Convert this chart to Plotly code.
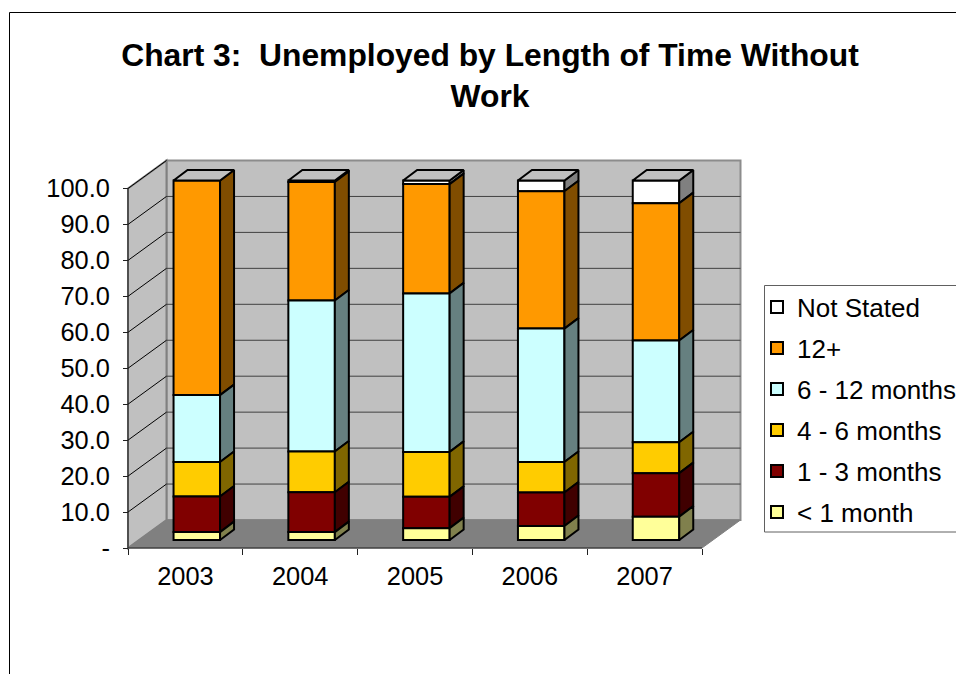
import plotly.graph_objects as go

# Percent of unemployed by time without work, one list per duration band
years = [2003, 2004, 2005, 2006, 2007]
under_1_month = [2.2, 2.2, 3.3, 3.9, 6.5]
months_1_3 = [9.9, 11.1, 8.7, 9.3, 12.1]
months_4_6 = [9.6, 11.3, 12.5, 8.5, 8.6]
months_6_12 = [18.6, 42.0, 44.1, 37.1, 28.3]
months_12_plus = [59.7, 33.0, 30.4, 38.2, 38.2]
not_stated = [0.0, 0.4, 1.0, 3.0, 6.3]

# Bottom-to-top stacking order
bands = [
    ("< 1 month", under_1_month, "#FFFF99", "#80804D"),
    ("1 - 3 months", months_1_3, "#800000", "#400000"),
    ("4 - 6 months", months_4_6, "#FFCC00", "#806600"),
    ("6 - 12 months", months_6_12, "#CCFFFF", "#668080"),
    ("12+", months_12_plus, "#FF9900", "#804D00"),
    ("Not Stated", not_stated, "#FFFFFF", "#808080"),
]
y_ticks = [0, 10, 20, 30, 40, 50, 60, 70, 80, 90, 100]
y_labels = ["-", "10.0", "20.0", "30.0", "40.0", "50.0", "60.0", "70.0", "80.0", "90.0", "100.0"]

FONT = "Liberation Sans, Arial, sans-serif"
PX_PER_YEAR = 114.8
PX_PER_UNIT = 3.595

# Plot box in pixels; the axes sit inside it so the wall edges are not clipped
BOX_L, BOX_R, BOX_T, BOX_B = 100, 760, 150, 560
ORIGIN_X, ORIGIN_Y = 128, 548

X0 = years[0] - 0.5
X1 = years[-1] + 0.5
WALL_DX = 38.5 / PX_PER_YEAR
WALL_DY = 28 / PX_PER_UNIT
BAR_WIDTH = 46.5 / PX_PER_YEAR
BAR_SHIFT = 11.4 / PX_PER_YEAR
BAR_LIFT = 8 / PX_PER_UNIT
BAR_DX = 14 / PX_PER_YEAR
BAR_DY = 10.5 / PX_PER_UNIT

fig = go.Figure()

# Front faces and right-hand side faces of each stacked column
bases = [0.0] * len(years)
stack = []
for name, values, colour, side_colour in bands:
    stack.append((name, values, colour, side_colour, list(bases)))
    bases = [b + v for b, v in zip(bases, values)]

for name, values, colour, side_colour, start in reversed(stack):
    fig.add_trace(go.Bar(
        x=[y + BAR_SHIFT for y in years], y=values,
        base=[s + BAR_LIFT for s in start], width=BAR_WIDTH,
        name=name, legendgroup=name,
        marker=dict(color=colour, line=dict(color="black", width=2)),
        hoverinfo="skip",
    ))
    side_x, side_y = [], []
    for yr, v, s in zip(years, values, start):
        right = yr + BAR_SHIFT + BAR_WIDTH / 2
        low = s + BAR_LIFT
        side_x += [right, right + BAR_DX, right + BAR_DX, right, right, None]
        side_y += [low, low + BAR_DY, low + v + BAR_DY, low + v, low, None]
    fig.add_trace(go.Scatter(
        x=side_x, y=side_y, mode="lines", fill="toself", fillcolor=side_colour,
        line=dict(color="black", width=2), showlegend=False, legendgroup=name,
        hoverinfo="skip",
    ))

# Caps on top of the columns
cap_x, cap_y = [], []
for yr, total in zip(years, bases):
    left = yr + BAR_SHIFT - BAR_WIDTH / 2
    right = left + BAR_WIDTH
    top = total + BAR_LIFT
    cap_x += [left, right, right + BAR_DX, left + BAR_DX, left, None]
    cap_y += [top, top, top + BAR_DY, top + BAR_DY, top, None]
fig.add_trace(go.Scatter(
    x=cap_x, y=cap_y, mode="lines", fill="toself", fillcolor="#C0C0C0",
    line=dict(color="black", width=2), showlegend=False, hoverinfo="skip",
))


def poly(points):
    return "M" + "L".join(f"{x},{y}" for x, y in points) + "Z"


shapes = [
    # Back wall, side wall and floor
    dict(type="rect", xref="x", yref="y", layer="below",
         x0=X0 + WALL_DX, x1=X1 + WALL_DX, y0=WALL_DY, y1=100 + WALL_DY,
         fillcolor="#C0C0C0", line=dict(color="#8C8C8C", width=2)),
    dict(type="path", xref="x", yref="y", layer="below",
         path=poly([(X0, 0), (X0 + WALL_DX, WALL_DY), (X0 + WALL_DX, 100 + WALL_DY), (X0, 100)]),
         fillcolor="#C0C0C0", line=dict(color="#808080", width=2)),
    dict(type="path", xref="x", yref="y", layer="below",
         path=poly([(X0, 0), (X1, 0), (X1 + WALL_DX, WALL_DY), (X0 + WALL_DX, WALL_DY)]),
         fillcolor="#808080", line=dict(color="#808080", width=1)),
]
for v in y_ticks[1:]:
    if v < 100:
        shapes.append(dict(type="line", xref="x", yref="y", layer="below",
                           x0=X0 + WALL_DX, x1=X1 + WALL_DX, y0=v + WALL_DY, y1=v + WALL_DY,
                           line=dict(color="#404040", width=1)))
    shapes.append(dict(type="line", xref="x", yref="y", layer="below",
                       x0=X0, x1=X0 + WALL_DX, y0=v, y1=v + WALL_DY,
                       line=dict(color="#000000", width=1)))

# Value and category axis lines
shapes.append(dict(type="line", xref="x", yref="y", x0=X0, x1=X0, y0=0, y1=100,
                   layer="below", line=dict(color="#202020", width=1)))
shapes.append(dict(type="line", xref="x", yref="y", x0=X0, x1=X1, y0=0, y1=0,
                   layer="below", line=dict(color="#202020", width=1)))


def paper_x(px):
    return (px - BOX_L) / (BOX_R - BOX_L)


def paper_y(px):
    return (BOX_B - px) / (BOX_B - BOX_T)


# Outer chart frame, running off the page to the right and bottom
shapes.append(dict(type="line", xref="paper", yref="paper",
                   x0=paper_x(9.5), x1=paper_x(9.5), y0=paper_y(12.5), y1=paper_y(680),
                   line=dict(color="black", width=1)))
shapes.append(dict(type="line", xref="paper", yref="paper",
                   x0=paper_x(9.5), x1=paper_x(970), y0=paper_y(12.5), y1=paper_y(12.5),
                   line=dict(color="black", width=1)))
# Legend box
shapes.append(dict(type="rect", xref="paper", yref="paper",
                   x0=paper_x(764.5), x1=paper_x(975), y0=paper_y(285.5), y1=paper_y(532),
                   line=dict(color="#606060", width=1), fillcolor="white", layer="below"))

fig.update_layout(
    width=956, height=674,
    margin=dict(l=BOX_L, r=956 - BOX_R, t=BOX_T, b=674 - BOX_B, pad=0, autoexpand=False),
    paper_bgcolor="white", plot_bgcolor="rgba(0,0,0,0)",
    barmode="overlay", shapes=shapes,
    font=dict(family=FONT, color="black", size=25),
    title=dict(
        text="<b>Chart 3:  Unemployed by Length of Time Without<br>Work</b>",
        x=490 / 956, xanchor="center", y=1 - 66 / 674, yanchor="top",
        font=dict(family=FONT, size=31.8, color="black"),
    ),
    xaxis=dict(
        range=[X0 + (BOX_L - ORIGIN_X) / PX_PER_YEAR, X0 + (BOX_R - ORIGIN_X) / PX_PER_YEAR],
        anchor="free", position=(BOX_B - ORIGIN_Y) / (BOX_B - BOX_T),
        tickmode="array", tickvals=years, ticktext=[str(y) for y in years],
        ticks="", showgrid=False, showline=False, zeroline=False, ticklabelstandoff=11,
        tickfont=dict(size=25.4),
        minor=dict(tickmode="array", tickvals=[y - 0.5 for y in years] + [X1],
                   ticks="outside", ticklen=6, tickcolor="#202020", tickwidth=1, showgrid=False),
    ),
    yaxis=dict(
        range=[(ORIGIN_Y - BOX_B) / PX_PER_UNIT, (ORIGIN_Y - BOX_T) / PX_PER_UNIT],
        anchor="free", position=(ORIGIN_X - BOX_L) / (BOX_R - BOX_L),
        tickmode="array", tickvals=y_ticks, ticktext=y_labels,
        ticks="outside", ticklen=5, tickcolor="#202020", tickwidth=1,
        showgrid=False, showline=False, zeroline=False, ticklabelstandoff=8,
        tickfont=dict(size=25.4),
    ),
    legend=dict(
        x=paper_x(757), xanchor="left", y=paper_y(283.5), yanchor="top",
        bgcolor="rgba(0,0,0,0)", borderwidth=0,
        font=dict(family=FONT, size=26, color="black"),
        tracegroupgap=4.2, traceorder="grouped", itemclick=False, itemdoubleclick=False,
    ),
)

fig.write_html("out.html", config={"displayModeBar": False})
